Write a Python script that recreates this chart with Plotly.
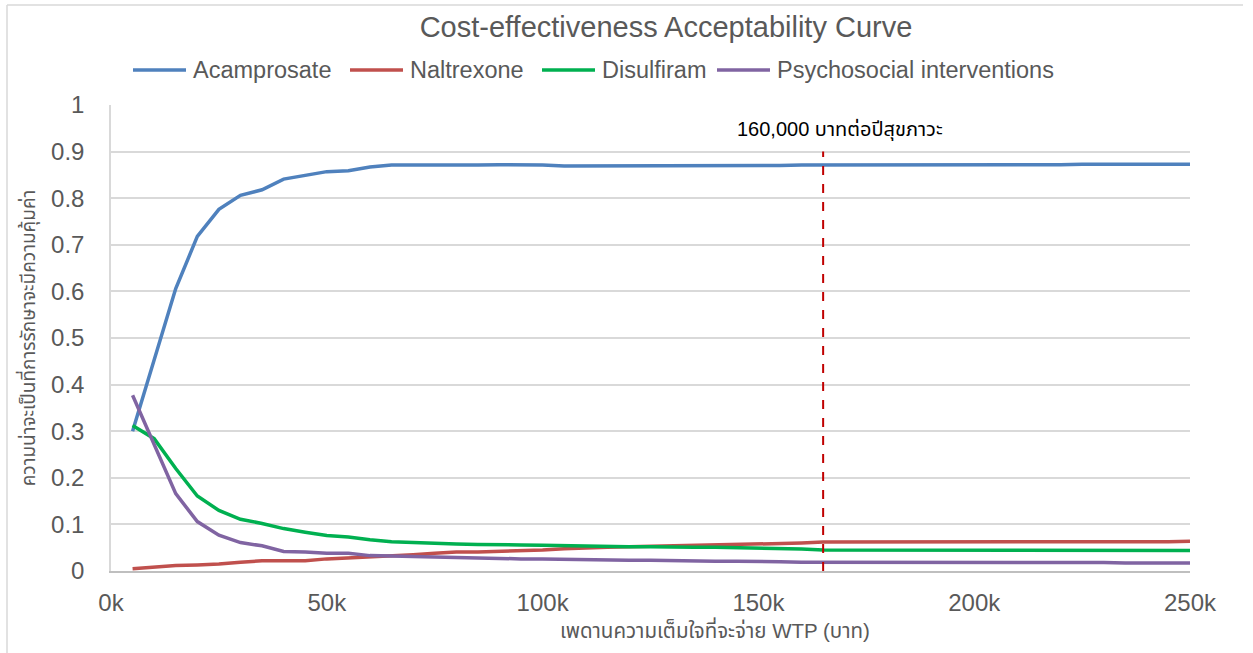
import plotly.graph_objects as go

wtp = [5000 * i for i in range(1, 51)]

acamprosate = [0.300, 0.450, 0.606, 0.718, 0.776, 0.806, 0.818, 0.841, 0.849, 0.857,
               0.859, 0.867, 0.871, 0.871, 0.870, 0.870, 0.871, 0.872, 0.872, 0.871,
               0.869, 0.869, 0.870, 0.870, 0.870, 0.869, 0.869, 0.869, 0.870, 0.870,
               0.870, 0.871, 0.871, 0.871, 0.871, 0.871, 0.871, 0.871, 0.872, 0.872,
               0.872, 0.872, 0.872, 0.872, 0.873, 0.873, 0.873, 0.873, 0.873, 0.873]

naltrexone = [0.005, 0.008, 0.012, 0.013, 0.015, 0.019, 0.022, 0.022, 0.022, 0.026,
              0.028, 0.031, 0.033, 0.035, 0.038, 0.041, 0.041, 0.042, 0.043, 0.045,
              0.048, 0.050, 0.051, 0.052, 0.053, 0.054, 0.055, 0.055, 0.056, 0.057,
              0.058, 0.060, 0.062, 0.062, 0.062, 0.062, 0.062, 0.062, 0.062, 0.062,
              0.062, 0.062, 0.062, 0.062, 0.062, 0.062, 0.062, 0.062, 0.063, 0.064]

disulfiram = [0.312, 0.284, 0.220, 0.161, 0.130, 0.111, 0.102, 0.091, 0.083, 0.076,
              0.073, 0.067, 0.063, 0.061, 0.059, 0.058, 0.057, 0.057, 0.056, 0.055,
              0.054, 0.053, 0.052, 0.052, 0.052, 0.051, 0.051, 0.051, 0.050, 0.050,
              0.049, 0.047, 0.045, 0.045, 0.045, 0.045, 0.045, 0.045, 0.045, 0.045,
              0.045, 0.045, 0.045, 0.045, 0.045, 0.045, 0.045, 0.045, 0.045, 0.044]

psychosocial = [0.377, 0.272, 0.166, 0.106, 0.077, 0.061, 0.054, 0.042, 0.041, 0.038,
                0.038, 0.033, 0.032, 0.031, 0.030, 0.028, 0.027, 0.027, 0.026, 0.026,
                0.025, 0.025, 0.024, 0.023, 0.023, 0.022, 0.022, 0.021, 0.021, 0.021,
                0.020, 0.019, 0.019, 0.019, 0.019, 0.019, 0.019, 0.018, 0.018, 0.018,
                0.018, 0.018, 0.018, 0.018, 0.018, 0.018, 0.017, 0.017, 0.017, 0.017]

series_names = ["Acamprosate", "Naltrexone", "Disulfiram", "Psychosocial interventions"]
series_colors = ["#4f81bd", "#c0504d", "#00b050", "#8064a2"]

x_tickvals = [0, 50000, 100000, 150000, 200000, 250000]
x_ticktext = ["0k", "50k", "100k", "150k", "200k", "250k"]
y_tickvals = [0, 0.1, 0.2, 0.3, 0.4, 0.5, 0.6, 0.7, 0.8, 0.9, 1.0]
y_ticktext = ["0", "0.1", "0.2", "0.3", "0.4", "0.5", "0.6", "0.7", "0.8", "0.9", "1"]

threshold_x = 165000
threshold_top = 0.9
threshold_label = "160,000 บาทต่อปีสุขภาวะ"

title_text = "Cost-effectiveness Acceptability Curve"
x_title = "เพดานความเต็มใจที่จะจ่าย WTP (บาท)"
y_title = "ความน่าจะเป็นที่การรักษาจะมีความคุ้มค่า"

FONT = "Liberation Sans, Arial, Noto Sans Thai, Tahoma, sans-serif"
GRAY = "#595959"

# plot-area geometry in pixels (layout only)
W, H = 1253, 653
L, R, T, B = 111, 1190, 105, 571.5


def px(xp):
    return (xp - L) / (R - L)


def py(yp):
    return (B - yp) / (B - T)


fig = go.Figure()
for name, col, ys in zip(series_names, series_colors,
                         [acamprosate, naltrexone, disulfiram, psychosocial]):
    fig.add_trace(go.Scatter(x=wtp, y=ys, mode="lines", name=name, showlegend=False,
                             line=dict(color=col, width=3.5)))

# manual legend (long line samples like the original)
legend_line_x = [133, 350, 542, 717]
legend_y = 70
for name, col, lx in zip(series_names, series_colors, legend_line_x):
    fig.add_shape(type="line", xref="paper", yref="paper", x0=px(lx), x1=px(lx + 53),
                  y0=py(legend_y), y1=py(legend_y), line=dict(color=col, width=3.5))
    fig.add_annotation(x=px(lx + 58), y=py(legend_y), xref="paper", yref="paper",
                       text=name, showarrow=False, xanchor="left", yanchor="middle",
                       font=dict(family=FONT, size=23.5, color=GRAY))

fig.add_shape(type="line", xref="x", yref="y", x0=threshold_x, x1=threshold_x,
              y0=0, y1=threshold_top, line=dict(color="#c00000", width=2, dash="dash"))

fig.add_annotation(x=px(840), y=py(130), xref="paper", yref="paper", text=threshold_label,
                   showarrow=False, xanchor="center", yanchor="middle",
                   font=dict(family=FONT, size=20, color="black"))

# x-axis title (offset right as in original)
fig.add_annotation(x=px(715), y=py(630), xref="paper", yref="paper", text=x_title,
                   showarrow=False, xanchor="center", yanchor="middle",
                   font=dict(family=FONT, size=20.5, color=GRAY))

# outer chart border (top and left)
fig.add_shape(type="line", xref="paper", yref="paper", x0=px(7), x1=px(1243),
              y0=py(5), y1=py(5), line=dict(color="#d9d9d9", width=1.5))
fig.add_shape(type="line", xref="paper", yref="paper", x0=px(7), x1=px(7),
              y0=py(660), y1=py(5), line=dict(color="#d9d9d9", width=1.5))

fig.update_layout(
    width=W, height=H,
    margin=dict(l=L, r=W - R, t=T, b=H - B),
    paper_bgcolor="white", plot_bgcolor="white",
    font=dict(family=FONT, color=GRAY),
    title=dict(text=title_text, x=666 / W, xref="container", xanchor="center",
               y=1 - 27 / H, yref="container", yanchor="middle",
               font=dict(size=29, color=GRAY, family=FONT)),
    showlegend=False,
    xaxis=dict(range=[0, 250000], tickvals=x_tickvals, ticktext=x_ticktext,
               showgrid=False, zeroline=False, showline=True, linecolor="#bfbfbf",
               linewidth=1.5, ticks="", ticklabelstandoff=9,
               tickfont=dict(size=24, color=GRAY)),
    yaxis=dict(range=[0, 1], tickvals=y_tickvals, ticktext=y_ticktext,
               showgrid=True, gridcolor="#d9d9d9", gridwidth=1.5, zeroline=False,
               showline=True, linecolor="#d9d9d9", linewidth=1.5, ticks="",
               ticklabelstandoff=20, tickfont=dict(size=24, color=GRAY),
               title=dict(text=y_title, font=dict(size=19, color=GRAY), standoff=10)),
)

fig.write_html("out.html")
